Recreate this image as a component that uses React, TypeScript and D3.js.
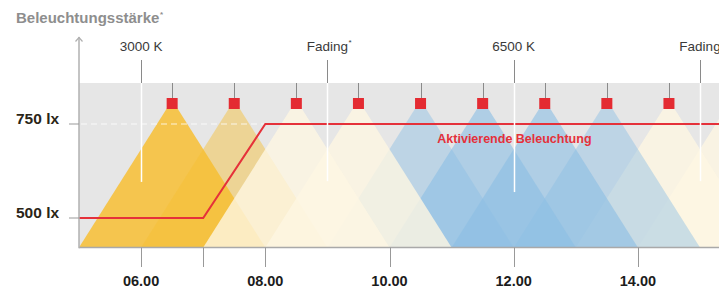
import * as React from 'react';
import { useEffect, useRef } from 'react';
import * as d3 from 'd3';

// Chart data
const hourTicks = [6, 7, 8, 10, 12, 14];
const hourLabels = ['06.00', '', '08.00', '10.00', '12.00', '14.00'];

const luxTicks = [500, 750];
const luxLabels = ['500 lx', '750 lx'];

// light level over the day (activating light)
const levelHours = [5, 7, 8, 15.5];
const levelLux = [500, 500, 750, 750];

// luminaires (one per half hour slot) and their colour temperature phase
const lampHours = [6.5, 7.5, 8.5, 9.5, 10.5, 11.5, 12.5, 13.5, 14.5, 15.5];
const lampPhase = ['3000K', '3000K', 'fading', 'fading', '6500K', '6500K', '6500K', '6500K', 'fading', 'fading'];

// phase annotations on top
const annoHours = [6, 9, 12, 15];
const annoLabels = ['3000 K', 'Fading', '6500 K', 'Fading'];
const annoStar = [false, true, false, true];
const annoReachLux = [596, 598, 569, 598];

const title = 'Beleuchtungsstärke';
const levelLabel = 'Aktivierende Beleuchtung';

const W = 719;
const H = 291;
const FONT = '"Liberation Sans", Arial, sans-serif';

function coneStyle(i: number) {
  const phase = lampPhase[i];
  if (phase === '3000K') {
    return { fill: '#f7be32', opacity: i === 0 ? 0.85 : 0.45 };
  }
  if (phase === '6500K') {
    const first = lampPhase[i - 1] !== '6500K';
    const last = lampPhase[i + 1] !== '6500K';
    return { fill: '#8cbee4', opacity: first || last ? 0.45 : 0.62 };
  }
  return { fill: '#fef6e2', opacity: 0.8 };
}

const LightChart: React.FC = () => {
  const svgRef = useRef<SVGSVGElement | null>(null);

  useEffect(() => {
    const svg = d3.select(svgRef.current);
    svg.selectAll('*').remove();

    const plotTop = 83;
    const plotBottom = 247.5;
    const apexY = 100;

    const x = d3.scaleLinear().domain([5, 15]).range([79, 700]);
    const y = d3.scaleLinear().domain([500, 750]).range([218, 124]);

    // grey band
    svg.append('rect')
      .attr('x', x(5))
      .attr('y', plotTop)
      .attr('width', W - x(5))
      .attr('height', plotBottom - plotTop)
      .attr('fill', '#e6e6e6');

    // light cones, drawn so that the fading ones sit on their neighbours
    const drawOrder = [9, 8, 7, 6, 5, 4, 0, 1, 3, 2];
    const cones = svg.append('g');
    drawOrder.forEach(i => {
      const h = lampHours[i];
      const st = coneStyle(i);
      const pts: [number, number][] = [
        [x(h), apexY],
        [x(h + 1.5), plotBottom],
        [x(h - 1.5), plotBottom],
      ];
      cones.append('path')
        .attr('d', d3.line()(pts) + 'Z')
        .attr('fill', st.fill)
        .attr('fill-opacity', st.opacity);
    });

    // dashed 750 lx guide
    svg.append('line')
      .attr('x1', x(5) + 2)
      .attr('x2', x(8))
      .attr('y1', y(750))
      .attr('y2', y(750))
      .attr('stroke', '#ffffff')
      .attr('stroke-opacity', 0.8)
      .attr('stroke-width', 1)
      .attr('stroke-dasharray', '6 4');

    // activating light level
    const levelLine = d3.line<number>()
      .x((_, i) => x(levelHours[i]))
      .y(d => y(d));
    svg.append('path')
      .datum(levelLux)
      .attr('fill', 'none')
      .attr('stroke', '#e5313a')
      .attr('stroke-width', 2)
      .attr('d', levelLine);

    svg.append('text')
      .attr('x', x(10.77))
      .attr('y', 143)
      .attr('font-family', FONT)
      .attr('font-weight', 700)
      .attr('font-size', 12.5)
      .attr('fill', '#e5313a')
      .text(levelLabel);

    // phase annotations
    annoHours.forEach((h, i) => {
      const px = Math.round(x(h)) + 0.5;
      svg.append('line')
        .attr('x1', px).attr('x2', px)
        .attr('y1', 60).attr('y2', plotTop)
        .attr('stroke', '#8a8a8a').attr('stroke-width', 1);
      svg.append('line')
        .attr('x1', px).attr('x2', px)
        .attr('y1', plotTop).attr('y2', y(annoReachLux[i]))
        .attr('stroke', '#ffffff').attr('stroke-width', 1.5);
      const t = svg.append('text')
        .attr('x', x(h))
        .attr('y', 51)
        .attr('text-anchor', 'middle')
        .attr('font-family', FONT)
        .attr('font-size', 13.5)
        .attr('fill', '#3a3a3a')
        .text(annoLabels[i]);
      if (annoStar[i]) {
        const w = (t.node() as SVGTextElement).getComputedTextLength();
        svg.append('text')
          .attr('x', x(h) + w / 2 + 0.5)
          .attr('y', 45)
          .attr('font-family', FONT)
          .attr('font-size', 8)
          .attr('fill', '#3a3a3a')
          .text('*');
      }
    });

    // luminaires
    lampHours.forEach(h => {
      const px = Math.round(x(h)) + 0.5;
      svg.append('line')
        .attr('x1', px).attr('x2', px)
        .attr('y1', plotTop).attr('y2', 98)
        .attr('stroke', '#8a8a8a').attr('stroke-width', 1);
      svg.append('rect')
        .attr('x', x(h) - 5.5)
        .attr('y', 98)
        .attr('width', 11)
        .attr('height', 11)
        .attr('fill', '#e42b32');
    });

    // x axis
    svg.append('line')
      .attr('x1', x(5)).attr('x2', W)
      .attr('y1', plotBottom).attr('y2', plotBottom)
      .attr('stroke', '#a9a9a9').attr('stroke-width', 1.5);
    hourTicks.forEach((h, i) => {
      const px = Math.round(x(h)) + 0.5;
      svg.append('line')
        .attr('x1', px).attr('x2', px)
        .attr('y1', plotBottom).attr('y2', 267)
        .attr('stroke', '#999999').attr('stroke-width', 1);
      if (hourLabels[i]) {
        svg.append('text')
          .attr('x', x(h))
          .attr('y', 286)
          .attr('text-anchor', 'middle')
          .attr('font-family', FONT)
          .attr('font-weight', 700)
          .attr('font-size', 14.5)
          .attr('fill', '#1c1c1c')
          .text(hourLabels[i]);
      }
    });

    // y axis with arrow
    const ax = x(5);
    svg.append('line')
      .attr('x1', ax).attr('x2', ax)
      .attr('y1', 37).attr('y2', plotBottom + 0.75)
      .attr('stroke', '#b0b0b0').attr('stroke-width', 1.5);
    svg.append('path')
      .attr('d', `M${ax - 3.5},${41.5} L${ax},${37.5} L${ax + 3.5},${41.5}`)
      .attr('fill', 'none')
      .attr('stroke', '#b0b0b0')
      .attr('stroke-width', 1.2);

    luxTicks.forEach((v, i) => {
      svg.append('line')
        .attr('x1', 69).attr('x2', ax)
        .attr('y1', y(v)).attr('y2', y(v))
        .attr('stroke', '#999999').attr('stroke-width', 1);
      svg.append('text')
        .attr('x', 16)
        .attr('y', y(v))
        .attr('font-family', FONT)
        .attr('font-weight', 700)
        .attr('font-size', 15.5)
        .attr('fill', '#2a2517')
        .text(luxLabels[i]);
    });

    // title
    const tt = svg.append('text')
      .attr('x', 16)
      .attr('y', 23)
      .attr('font-family', FONT)
      .attr('font-weight', 700)
      .attr('font-size', 15)
      .attr('fill', '#8e8e8e')
      .text(title);
    const tw = (tt.node() as SVGTextElement).getComputedTextLength();
    svg.append('text')
      .attr('x', 16 + tw + 0.5)
      .attr('y', 17)
      .attr('font-family', FONT)
      .attr('font-weight', 700)
      .attr('font-size', 8)
      .attr('fill', '#8e8e8e')
      .text('*');
  }, []);

  return (
    <svg
      ref={svgRef}
      width={W}
      height={H}
      style={{ position: 'absolute', left: 0, top: 0, background: '#ffffff' }}
    ></svg>
  );
};

export default function App() {
  return <LightChart />;
}
